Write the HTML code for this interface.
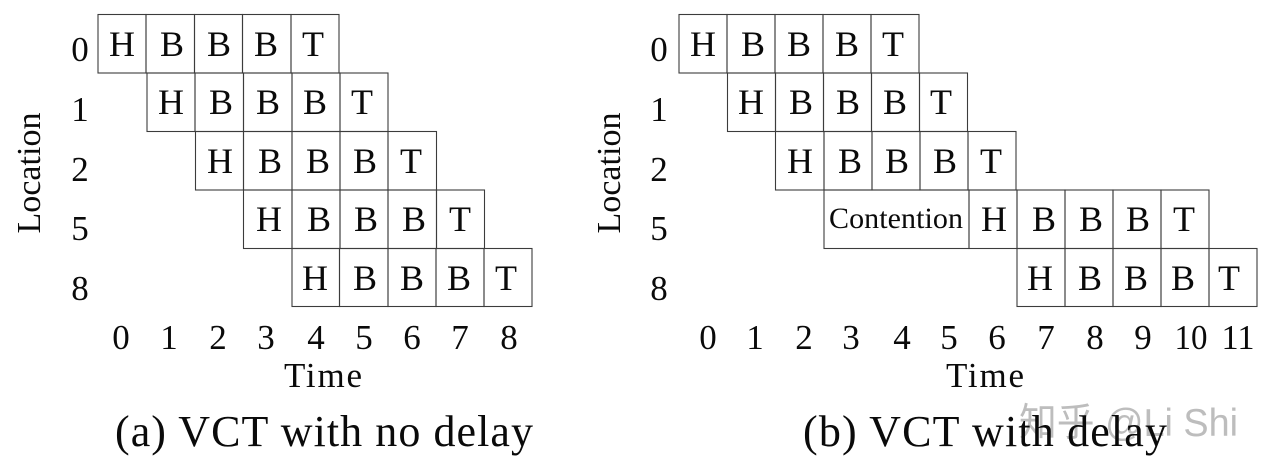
<!DOCTYPE html>
<html>
<head>
<meta charset="utf-8">
<style>
html,body{margin:0;padding:0;background:#fff;width:1270px;height:472px;overflow:hidden}
svg{display:block}
text{font-family:"Liberation Serif","Noto Serif CJK SC",serif;fill:#0a0a0a}
.c{font-size:36px;text-anchor:middle}
.n{font-size:35px;text-anchor:middle}
.l{font-size:34px;text-anchor:middle}
.t{font-size:44px}
.w{font-family:"Liberation Sans","Noto Sans CJK SC",sans-serif;font-size:39px;fill:#bdbdbd}
.g{fill:none;stroke:#3c3c3c;stroke-width:1.1}
</style>
</head>
<body>
<svg width="1270" height="472" viewBox="0 0 1270 472" xmlns="http://www.w3.org/2000/svg">
<rect width="1270" height="472" fill="#fff"/>

<!-- Left grid -->
<g class="g">
<rect x="98" y="14.5" width="48" height="58.5"/><rect x="146" y="14.5" width="48.5" height="58.5"/><rect x="194.5" y="14.5" width="48" height="58.5"/><rect x="242.500" y="14.5" width="48.500" height="58.5"/><rect x="291" y="14.5" width="48" height="58.5"/>
<rect x="147" y="73" width="48" height="58.500"/><rect x="195" y="73" width="48.500" height="58.500"/><rect x="243.500" y="73" width="48.500" height="58.500"/><rect x="292" y="73" width="48" height="58.500"/><rect x="340" y="73" width="48" height="58.500"/>
<rect x="195.500" y="131.500" width="48" height="58.500"/><rect x="243.500" y="131.500" width="48.500" height="58.500"/><rect x="292" y="131.500" width="48" height="58.500"/><rect x="340" y="131.500" width="48" height="58.500"/><rect x="388" y="131.500" width="48.500" height="58.500"/>
<rect x="243.500" y="190" width="48.500" height="58.500"/><rect x="292" y="190" width="48" height="58.500"/><rect x="340" y="190" width="48" height="58.500"/><rect x="388" y="190" width="48.500" height="58.500"/><rect x="436.500" y="190" width="48" height="58.500"/>
<rect x="292" y="248.500" width="47.500" height="58"/><rect x="339.500" y="248.500" width="48.500" height="58"/><rect x="388" y="248.500" width="48" height="58"/><rect x="436" y="248.500" width="48" height="58"/><rect x="484" y="248.500" width="48" height="58"/>
</g>
<g class="c">
<text x="122" y="56">H</text><text x="172" y="56">B</text><text x="219" y="56">B</text><text x="266" y="56">B</text><text x="313" y="56">T</text>
<text x="171" y="114">H</text><text x="221" y="114">B</text><text x="268" y="114">B</text><text x="315" y="114">B</text><text x="362" y="114">T</text>
<text x="220" y="173">H</text><text x="270" y="173">B</text><text x="318" y="173">B</text><text x="365" y="173">B</text><text x="411" y="173">T</text>
<text x="269" y="231">H</text><text x="319" y="231">B</text><text x="366" y="231">B</text><text x="414" y="231">B</text><text x="460" y="231">T</text>
<text x="315" y="290">H</text><text x="365" y="290">B</text><text x="412" y="290">B</text><text x="459" y="290">B</text><text x="506" y="290">T</text>
</g>
<g class="n">
<text x="80" y="61">0</text><text x="80" y="121">1</text><text x="80" y="181">2</text><text x="80" y="240">5</text><text x="80" y="300">8</text>
<text x="121" y="349">0</text><text x="169" y="349">1</text><text x="218" y="349">2</text><text x="266" y="349">3</text><text x="316" y="349">4</text><text x="364" y="349">5</text><text x="412" y="349">6</text><text x="460" y="349">7</text><text x="509" y="349">8</text>
</g>
<text class="n" x="323" y="387" textLength="78" lengthAdjust="spacing">Time</text>
<text class="l" transform="translate(40,173) rotate(-90)" textLength="121" lengthAdjust="spacing">Location</text>
<text class="t" x="115" y="446" textLength="418" lengthAdjust="spacing">(a) VCT with no delay</text>

<!-- Right grid -->
<g class="g">
<rect x="679" y="14.500" width="48" height="58.500"/><rect x="727" y="14.500" width="48" height="58.500"/><rect x="775" y="14.500" width="48" height="58.500"/><rect x="823" y="14.500" width="48" height="58.500"/><rect x="871" y="14.500" width="48" height="58.500"/>
<rect x="727.500" y="73" width="48" height="58.500"/><rect x="775.500" y="73" width="48" height="58.500"/><rect x="823.500" y="73" width="48" height="58.500"/><rect x="871.500" y="73" width="48" height="58.500"/><rect x="919.500" y="73" width="48" height="58.500"/>
<rect x="775.500" y="131.500" width="48.500" height="58.500"/><rect x="824" y="131.500" width="48" height="58.500"/><rect x="872" y="131.500" width="48" height="58.500"/><rect x="920" y="131.500" width="48" height="58.500"/><rect x="968" y="131.500" width="48" height="58.500"/>
<rect x="824" y="190" width="145" height="58.500"/><rect x="969" y="190" width="48" height="58.500"/><rect x="1017" y="190" width="48" height="58.500"/><rect x="1065" y="190" width="48" height="58.500"/><rect x="1113" y="190" width="48" height="58.500"/><rect x="1161" y="190" width="48" height="58.500"/>
<rect x="1017" y="248.500" width="48" height="58"/><rect x="1065" y="248.500" width="48" height="58"/><rect x="1113" y="248.500" width="48" height="58"/><rect x="1161" y="248.500" width="48" height="58"/><rect x="1209" y="248.500" width="48" height="58"/>
</g>
<g class="c">
<text x="703" y="56">H</text><text x="753" y="56">B</text><text x="799" y="56">B</text><text x="847" y="56">B</text><text x="893" y="56">T</text>
<text x="751" y="114">H</text><text x="801" y="114">B</text><text x="848" y="114">B</text><text x="895" y="114">B</text><text x="941" y="114">T</text>
<text x="800" y="173">H</text><text x="850" y="173">B</text><text x="897" y="173">B</text><text x="945" y="173">B</text><text x="991" y="173">T</text>
<text x="994" y="231">H</text><text x="1044" y="231">B</text><text x="1091" y="231">B</text><text x="1138" y="231">B</text><text x="1184" y="231">T</text>
<text x="1040" y="290">H</text><text x="1090" y="290">B</text><text x="1136" y="290">B</text><text x="1183" y="290">B</text><text x="1229" y="290">T</text>
</g>
<text x="829" y="228" font-size="30" textLength="134" lengthAdjust="spacing">Contention</text>
<g class="n">
<text x="659" y="61">0</text><text x="659" y="121">1</text><text x="659" y="181">2</text><text x="659" y="240">5</text><text x="659" y="300">8</text>
<text x="708" y="349">0</text><text x="755" y="349">1</text><text x="804" y="349">2</text><text x="851" y="349">3</text><text x="902" y="349">4</text><text x="949" y="349">5</text><text x="997" y="349">6</text><text x="1046" y="349">7</text><text x="1095" y="349">8</text><text x="1143" y="349">9</text><text x="1191" y="349" textLength="33" lengthAdjust="spacingAndGlyphs">10</text><text x="1238" y="349" textLength="33" lengthAdjust="spacingAndGlyphs">11</text>
</g>
<text class="n" x="985" y="387" textLength="78" lengthAdjust="spacing">Time</text>
<text class="l" transform="translate(620,173) rotate(-90)" textLength="121" lengthAdjust="spacing">Location</text>

<!-- Watermark -->
<text class="w" x="1019" y="436" textLength="219" lengthAdjust="spacingAndGlyphs">知乎 @Li Shi</text>
<text class="t" x="803" y="446" textLength="364" lengthAdjust="spacing">(b) VCT with delay</text>
</svg>
</body>
</html>
